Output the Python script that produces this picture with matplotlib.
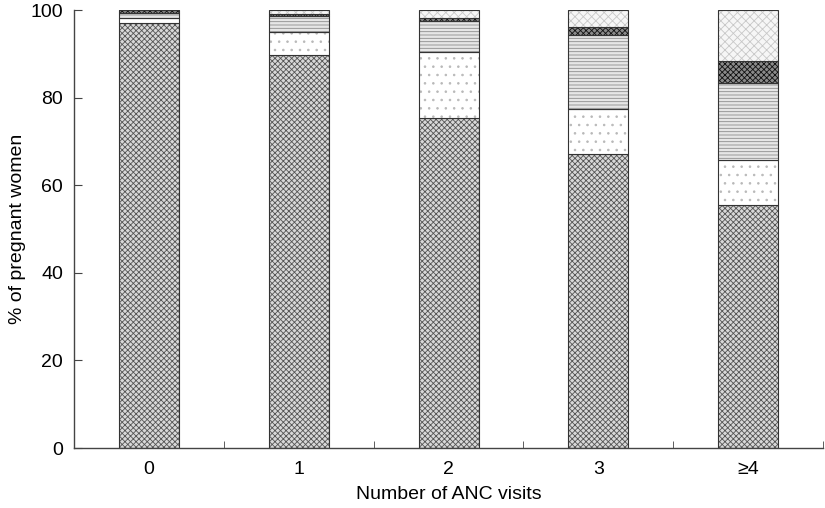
import numpy as np
import matplotlib
matplotlib.use("Agg")
import matplotlib.pyplot as plt

plt.rcParams["font.family"] = ["Liberation Sans", "DejaVu Sans"]
plt.rcParams["hatch.linewidth"] = 0.6

# data (% of pregnant women), bottom segment first
categories = ["0", "1", "2", "3", "\u22654"]
seg_dense = [97.0, 89.7, 75.3, 67.1, 55.5]
seg_dots = [1.3, 5.3, 15.1, 10.3, 10.3]
seg_lines = [1.0, 3.6, 7.1, 16.9, 17.5]
seg_dark = [0.7, 0.5, 0.7, 1.8, 5.1]
seg_light = [0.0, 0.9, 1.8, 3.9, 11.6]

segments = [seg_dense, seg_dots, seg_lines, seg_dark, seg_light]
# (face colour, hatch, hatch colour)
styles = [
    ("#d8d8d8", "xxxxxx", "#555555"),
    ("white", "..", "#b8b8b8"),
    ("#e6e6e6", "-----", "#8c8c8c"),
    ("#8a8a8a", "xxxxxx", "#111111"),
    ("#f6f6f6", "xxxx", "#c8c8c8"),
]

fig = plt.figure(figsize=(8.25, 5.08), dpi=100)
ax = fig.add_axes([0.0897, 0.118, 0.908, 0.862])

x = np.arange(len(categories))
width = 0.4
bottom = np.zeros(len(categories))
for vals, (fc, hatch, hc) in zip(segments, styles):
    vals = np.array(vals)
    ax.bar(x, vals, width, bottom=bottom, color=fc, hatch=hatch,
           edgecolor=hc, linewidth=0)
    ax.bar(x, vals, width, bottom=bottom, facecolor="none",
           edgecolor="#333333", linewidth=0.8)
    bottom += vals

ax.set_xlim(-0.5, 4.5)
ax.set_ylim(0, 100)
ax.set_xticks(x)
ax.set_xticklabels(categories)
ax.set_xticks(np.arange(0.5, 4.6, 1.0), minor=True)
ax.set_yticks(np.arange(0, 101, 20))
ax.tick_params(axis="x", which="major", length=0, pad=9, labelsize=14)
ax.tick_params(axis="x", which="minor", direction="in", length=5,
               color="#444444")
ax.tick_params(axis="y", direction="in", length=6, pad=8, labelsize=14,
               color="#444444")

for side in ["top", "right"]:
    ax.spines[side].set_visible(False)
for side in ["left", "bottom"]:
    ax.spines[side].set_color("#444444")
    ax.spines[side].set_linewidth(1.0)

ax.set_xlabel("Number of ANC visits", fontsize=14, labelpad=6)
ax.set_ylabel("% of pregnant women", fontsize=14, labelpad=3)

fig.savefig("out.png", dpi=100)
plt.close(fig)
